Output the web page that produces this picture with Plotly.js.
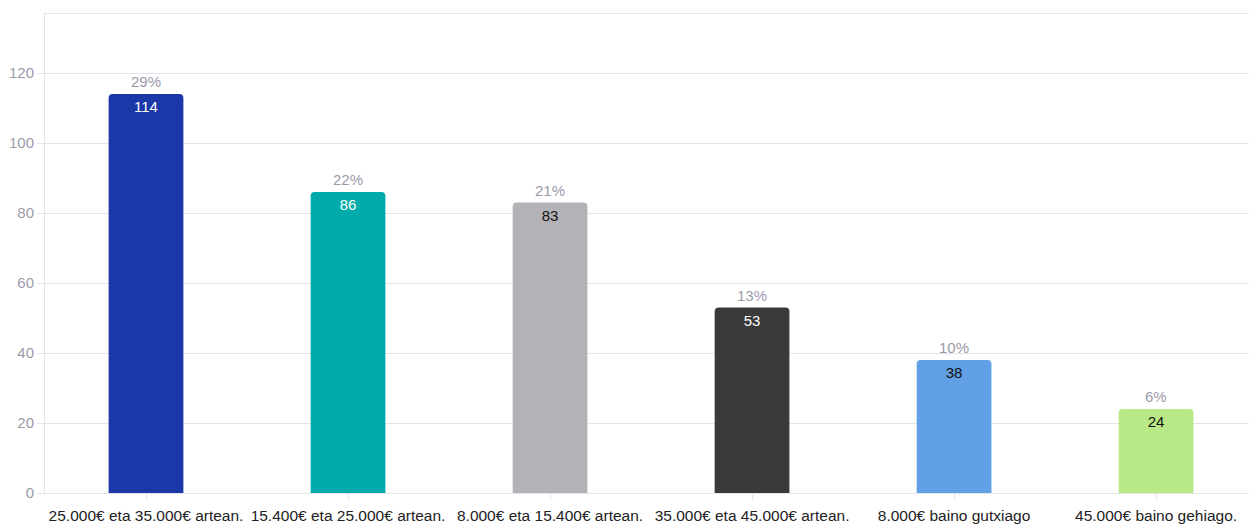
<!DOCTYPE html>
<html><head><meta charset="utf-8">
<script src="https://cdn.plot.ly/plotly-3.0.1.min.js"></script>
<style>html,body{margin:0;padding:0;overflow:hidden;background:#fff}</style>
</head><body><div id="chart" style="width:1249px;height:524px"></div>
<script>
const categories = ["25.000€ eta 35.000€ artean.", "15.400€ eta 25.000€ artean.", "8.000€ eta 15.400€ artean.", "35.000€ eta 45.000€ artean.", "8.000€ baino gutxiago", "45.000€ baino gehiago."];
const counts = [114, 86, 83, 53, 38, 24];
const percents = ["29%", "22%", "21%", "13%", "10%", "6%"];
const barColors = ["#1b37a8", "#00aba9", "#b3b3b7", "#3a3a3a", "#619fe6", "#b8e986"];
const labelColors = ["#ffffff", "#ffffff", "#111111", "#ffffff", "#111111", "#111111"];

const FONT = "Liberation Sans, Arial, sans-serif";
const grid = "#e4e4ec";
const traces = [
  {
    type: "bar", x: categories, y: counts, width: 0.37,
    marker: {color: barColors, cornerradius: 4, line: {width: 0}},
    text: counts.map(String), textposition: "inside", insidetextanchor: "end",
    textangle: 0, constraintext: "none",
    textfont: {family: FONT, size: 15, color: labelColors},
    hoverinfo: "skip", showlegend: false
  }
];
const annotations = categories.map((c, i) => ({
  x: c, y: counts[i], text: percents[i], showarrow: false,
  xanchor: "center", yanchor: "bottom", yshift: 2,
  font: {family: FONT, size: 15, color: "#9b9aaa"}
}));
const layout = {
  width: 1249, height: 524,
  margin: {l: 45, r: 0, t: 14, b: 31},
  paper_bgcolor: "#ffffff", plot_bgcolor: "#ffffff",
  font: {family: FONT, color: "#333"},
  xaxis: {
    type: "category", range: [-0.5, 5.46],
    showline: true, mirror: true, linecolor: grid, linewidth: 1,
    ticks: "outside", ticklen: 6, tickcolor: grid,
    ticklabelstandoff: 2,
    showgrid: false, tickfont: {size: 15.5, color: "#222"}
  },
  yaxis: {
    range: [0, 136.9], dtick: 20, tick0: 0,
    showline: true, linecolor: grid, linewidth: 1,
    ticks: "outside", ticklen: 7, tickcolor: grid,
    gridcolor: grid, zeroline: false,
    tickfont: {size: 15, color: "#9b9aaa"}
  },
  annotations: annotations,
  bargap: 0.63
};
Plotly.newPlot("chart", traces, layout, {displayModeBar: false, staticPlot: true});
</script></body></html>
